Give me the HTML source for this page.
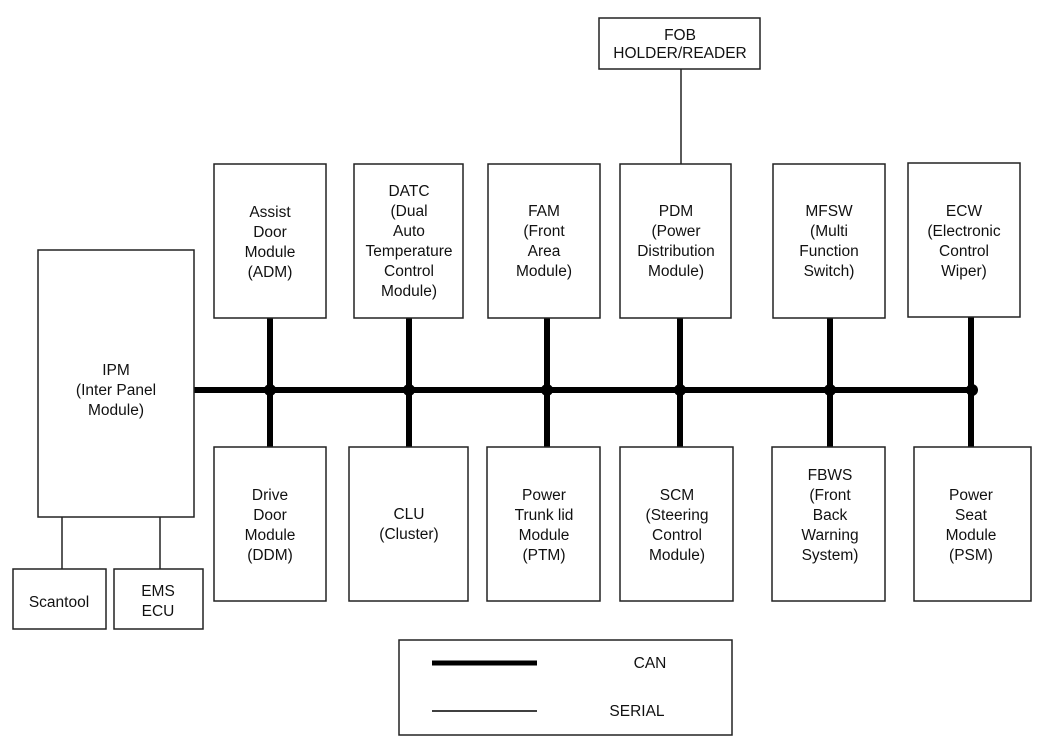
<!DOCTYPE html>
<html><head><style>
html,body{margin:0;padding:0;background:#fff;}
svg{display:block;}
text{font-family:"Liberation Sans",sans-serif;font-size:15.5px;fill:#111;text-anchor:middle;}
rect{fill:#fff;stroke:#222;stroke-width:1.5;}
</style></head><body>
<svg width="1050" height="753" viewBox="0 0 1050 753">
<line x1="681" y1="69" x2="681" y2="164" stroke="#222" stroke-width="1.5"/>
<line x1="62" y1="517" x2="62" y2="569" stroke="#222" stroke-width="1.5"/>
<line x1="160" y1="517" x2="160" y2="569" stroke="#222" stroke-width="1.5"/>
<g stroke="#000" stroke-width="6">
<line x1="194" y1="390" x2="975" y2="390"/>
<line x1="270" y1="318" x2="270" y2="447"/>
<line x1="409" y1="318" x2="409" y2="447"/>
<line x1="547" y1="318" x2="547" y2="447"/>
<line x1="680" y1="318" x2="680" y2="447"/>
<line x1="830" y1="318" x2="830" y2="447"/>
<line x1="971" y1="317" x2="971" y2="447"/>
</g>
<g fill="#000">
<circle cx="270" cy="390" r="6"/><circle cx="409" cy="390" r="6"/><circle cx="547" cy="390" r="6"/>
<circle cx="680" cy="390" r="6"/><circle cx="830" cy="390" r="6"/><circle cx="972" cy="390" r="6"/>
</g>
<rect x="599" y="18" width="161" height="51"/>
<rect x="214" y="164" width="112" height="154"/>
<rect x="354" y="164" width="109" height="154"/>
<rect x="488" y="164" width="112" height="154"/>
<rect x="620" y="164" width="111" height="154"/>
<rect x="773" y="164" width="112" height="154"/>
<rect x="908" y="163" width="112" height="154"/>
<rect x="214" y="447" width="112" height="154"/>
<rect x="349" y="447" width="119" height="154"/>
<rect x="487" y="447" width="113" height="154"/>
<rect x="620" y="447" width="113" height="154"/>
<rect x="772" y="447" width="113" height="154"/>
<rect x="914" y="447" width="117" height="154"/>
<rect x="38" y="250" width="156" height="267"/>
<rect x="13" y="569" width="93" height="60"/>
<rect x="114" y="569" width="89" height="60"/>
<rect x="399" y="640" width="333" height="95"/>
<line x1="432" y1="663" x2="537" y2="663" stroke="#000" stroke-width="5"/>
<line x1="432" y1="711" x2="537" y2="711" stroke="#000" stroke-width="1.5"/>
<text x="680" y="40">FOB</text><text x="680" y="58">HOLDER/READER</text>
<text x="270" y="217">Assist</text><text x="270" y="237">Door</text><text x="270" y="257">Module</text><text x="270" y="277">(ADM)</text>
<text x="409" y="196">DATC</text><text x="409" y="216">(Dual</text><text x="409" y="236">Auto</text><text x="409" y="256">Temperature</text><text x="409" y="276">Control</text><text x="409" y="296">Module)</text>
<text x="544" y="216">FAM</text><text x="544" y="236">(Front</text><text x="544" y="256">Area</text><text x="544" y="276">Module)</text>
<text x="676" y="216">PDM</text><text x="676" y="236">(Power</text><text x="676" y="256">Distribution</text><text x="676" y="276">Module)</text>
<text x="829" y="216">MFSW</text><text x="829" y="236">(Multi</text><text x="829" y="256">Function</text><text x="829" y="276">Switch)</text>
<text x="964" y="216">ECW</text><text x="964" y="236">(Electronic</text><text x="964" y="256">Control</text><text x="964" y="276">Wiper)</text>
<text x="270" y="500">Drive</text><text x="270" y="520">Door</text><text x="270" y="540">Module</text><text x="270" y="560">(DDM)</text>
<text x="409" y="519">CLU</text><text x="409" y="539">(Cluster)</text>
<text x="544" y="500">Power</text><text x="544" y="520">Trunk lid</text><text x="544" y="540">Module</text><text x="544" y="560">(PTM)</text>
<text x="677" y="500">SCM</text><text x="677" y="520">(Steering</text><text x="677" y="540">Control</text><text x="677" y="560">Module)</text>
<text x="830" y="480">FBWS</text><text x="830" y="500">(Front</text><text x="830" y="520">Back</text><text x="830" y="540">Warning</text><text x="830" y="560">System)</text>
<text x="971" y="500">Power</text><text x="971" y="520">Seat</text><text x="971" y="540">Module</text><text x="971" y="560">(PSM)</text>
<text x="116" y="375">IPM</text><text x="116" y="395">(Inter Panel</text><text x="116" y="415">Module)</text>
<text x="59" y="607">Scantool</text>
<text x="158" y="596">EMS</text><text x="158" y="616">ECU</text>
<text x="650" y="668">CAN</text>
<text x="637" y="716">SERIAL</text>
</svg>
</body></html>
